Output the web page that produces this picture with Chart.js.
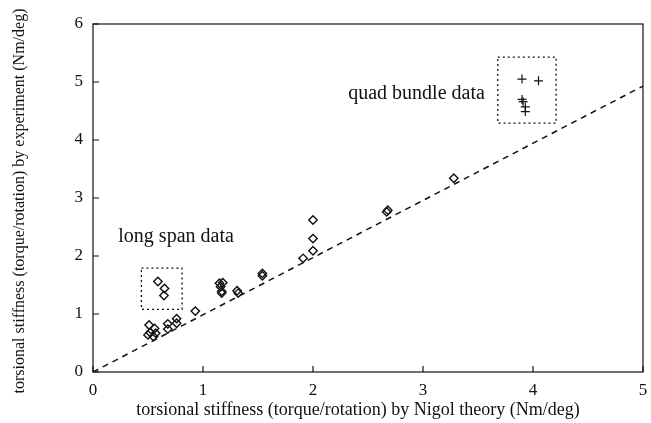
<!DOCTYPE html>
<html>
<head>
<meta charset="utf-8">
<script src="https://cdn.jsdelivr.net/npm/chart.js@4"></script>
<style>
  body { margin: 0; background: #fff; }
  #wrap { width: 651px; height: 423px; }
</style>
</head>
<body>
<div id="wrap"><canvas id="torsion"></canvas></div>
<script>
// single/twin conductor measurements (diamonds)
const nigolX = [0.51, 0.52, 0.56, 0.57, 0.50, 0.55, 0.68, 0.68, 0.76, 0.76, 0.93,
  1.15, 1.18, 1.16, 1.17, 1.17, 1.31, 1.32, 1.54, 1.54,
  1.91, 2.0, 2.0, 2.0, 2.67, 2.68, 3.28,
  0.59, 0.65, 0.645];
const experimentY = [0.81, 0.68, 0.75, 0.67, 0.64, 0.61, 0.83, 0.74, 0.92, 0.84, 1.05,
  1.53, 1.54, 1.47, 1.36, 1.39, 1.40, 1.36, 1.70, 1.66,
  1.96, 2.09, 2.30, 2.62, 2.76, 2.79, 3.34,
  1.56, 1.44, 1.32];
// quad bundle measurements (plus signs)
const quadX = [3.90, 4.05, 3.90, 3.91, 3.93, 3.93];
const quadY = [5.05, 5.02, 4.70, 4.66, 4.57, 4.49];
// Nigol theory reference line
const lineX = [0, 5];
const lineY = [0, 4.93];
// tick labels
const xTicks = [0, 1, 2, 3, 4, 5];
const yTicks = [0, 1, 2, 3, 4, 5, 6];
// dotted boxes [xmin, xmax, ymin, ymax] and their labels
const longSpanBox = [0.44, 0.81, 1.08, 1.79];
const quadBox = [3.68, 4.21, 4.29, 5.43];
const notes = [
  { text: 'long span data', x: 0.23, y: 2.33 },
  { text: 'quad bundle data', x: 2.32, y: 4.8 }
];
const xTitle = 'torsional stiffness (torque/rotation) by Nigol theory (Nm/deg)';
const yTitle = 'torsional stiffness (torque/rotation) by experiment (Nm/deg)';

const serif = "'Liberation Serif', 'DejaVu Serif', serif";

const framePlugin = {
  id: 'frame',
  afterDatasetsDraw(chart) {
    const { ctx, chartArea: a, scales: { x, y } } = chart;
    ctx.save();
    ctx.strokeStyle = '#111';
    ctx.lineWidth = 1.2;
    ctx.strokeRect(a.left, a.top, a.right - a.left, a.bottom - a.top);
    ctx.beginPath();
    xTicks.forEach(v => {
      const px = x.getPixelForValue(v);
      ctx.moveTo(px, a.bottom); ctx.lineTo(px, a.bottom - 6);
    });
    yTicks.forEach(v => {
      const py = y.getPixelForValue(v);
      ctx.moveTo(a.left, py); ctx.lineTo(a.left + 6, py);
    });
    ctx.stroke();

    ctx.setLineDash([2, 3]);
    ctx.lineWidth = 1.3;
    [longSpanBox, quadBox].forEach(b => {
      const l = x.getPixelForValue(b[0]), r = x.getPixelForValue(b[1]);
      const t = y.getPixelForValue(b[3]), bt = y.getPixelForValue(b[2]);
      ctx.strokeRect(l, t, r - l, bt - t);
    });
    ctx.setLineDash([]);

    ctx.fillStyle = '#111';
    ctx.font = '20px ' + serif;
    ctx.textBaseline = 'middle';
    ctx.textAlign = 'left';
    notes.forEach(n => {
      ctx.fillText(n.text, x.getPixelForValue(n.x), y.getPixelForValue(n.y));
    });

    // axis titles
    ctx.textAlign = 'center';
    ctx.font = '18px ' + serif;
    ctx.fillText(xTitle, 358, 410);
    ctx.translate(20, 201);
    ctx.rotate(-Math.PI / 2);
    ctx.font = '16px ' + serif;
    ctx.fillText(yTitle, 0, 0);
    ctx.restore();
  }
};

const toPts = (xs, ys) => xs.map((v, i) => ({ x: v, y: ys[i] }));

new Chart(document.getElementById('torsion'), {
  type: 'scatter',
  data: {
    datasets: [
      {
        label: 'Nigol theory',
        type: 'line',
        data: toPts(lineX, lineY),
        borderColor: '#111',
        borderWidth: 1.5,
        borderDash: [6, 5],
        pointRadius: 0,
        fill: false
      },
      {
        label: 'measured',
        data: toPts(nigolX, experimentY),
        pointStyle: 'rectRot',
        pointRadius: 4.2,
        borderColor: '#111',
        borderWidth: 1.4,
        backgroundColor: 'rgba(255,255,255,0)'
      },
      {
        label: 'quad bundle',
        data: toPts(quadX, quadY),
        pointStyle: 'cross',
        pointRadius: 4.5,
        borderColor: '#111',
        borderWidth: 1.2
      }
    ]
  },
  options: {
    responsive: true,
    maintainAspectRatio: false,
    animation: false,
    layout: { padding: { top: 24, right: 8, left: 0, bottom: 0 } },
    plugins: { legend: { display: false }, tooltip: { enabled: false } },
    scales: {
      x: {
        type: 'linear',
        min: 0, max: 5,
        afterFit: s => { s.height = 51; s.paddingLeft = 0; s.paddingRight = 0; },
        afterBuildTicks: s => { s.ticks = xTicks.map(v => ({ value: v })); },
        grid: { display: false, drawTicks: false },
        border: { display: false },
        ticks: { color: '#111', font: { family: serif, size: 17 }, padding: 8, maxRotation: 0 },
        title: { display: false }
      },
      y: {
        type: 'linear',
        min: 0, max: 6,
        afterFit: s => { s.width = 93; s.paddingTop = 0; s.paddingBottom = 0; },
        afterBuildTicks: s => { s.ticks = yTicks.map(v => ({ value: v })); },
        grid: { display: false, drawTicks: false },
        border: { display: false },
        ticks: { color: '#111', font: { family: serif, size: 17 }, padding: 10 },
        title: { display: false }
      }
    }
  },
  plugins: [framePlugin]
});
</script>
</body>
</html>
